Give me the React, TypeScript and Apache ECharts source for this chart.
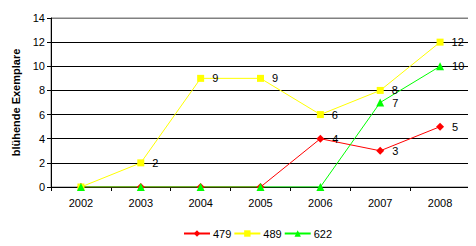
import React, { useEffect, useRef } from "react";
import * as echarts from "echarts";

const years = ["2002", "2003", "2004", "2005", "2006", "2007", "2008"];
const s479 = [0, 0, 0, 0, 4, 3, 5];
const s489 = [0, 2, 9, 9, 6, 8, 12];
const s622 = [0, 0, 0, 0, 0, 7, 10];
const yTicks = [0, 2, 4, 6, 8, 10, 12, 14];

const font = "Liberation Sans, Arial, sans-serif";

export default function App() {
  const ref = useRef<HTMLDivElement>(null);
  useEffect(() => {
    const chart = echarts.init(ref.current!, undefined, { renderer: "svg" });
    const label = {
      show: true,
      position: "right" as const,
      distance: 8,
      color: "#000",
      fontFamily: font,
      fontSize: 11,
      formatter: (p: any) => (p.value === 0 ? "" : String(p.value)),
    };
    const mk = (name: string, data: number[], color: string, symbol: string, size: number) => ({
      name,
      type: "line",
      data,
      symbol,
      symbolSize: size,
      showAllSymbol: true,
      lineStyle: { color, width: 1 },
      itemStyle: { color },
      label,
    });
    chart.setOption({
      animation: false,
      backgroundColor: "#fff",
      grid: {
        left: 51,
        right: 6,
        top: 18,
        bottom: 59,
        show: true,
        borderColor: "#808080",
        borderWidth: 1,
      },
      legend: {
        bottom: 2,
        left: 178,
        itemWidth: 26,
        itemHeight: 8,
        itemGap: 2,
        textStyle: { fontFamily: font, fontSize: 11, color: "#000", padding: [0, 0, 0, -2] },
        data: ["479", "489", "622"],
      },
      xAxis: {
        type: "category",
        data: years,
        boundaryGap: true,
        axisLine: { lineStyle: { color: "#000", width: 1 } },
        axisTick: { show: true, length: 4, inside: false, lineStyle: { color: "#000" } },
        axisLabel: { fontFamily: font, fontSize: 11, color: "#000", margin: 10 },
      },
      yAxis: {
        type: "value",
        min: yTicks[0],
        max: yTicks[yTicks.length - 1],
        interval: 2,
        name: "blühende Exemplare",
        nameLocation: "middle",
        nameGap: 29,
        nameTextStyle: { fontFamily: font, fontSize: 11, fontWeight: "bold", color: "#000" },
        axisLine: { show: true, lineStyle: { color: "#000", width: 1 } },
        axisTick: { show: true, length: 4, lineStyle: { color: "#000" } },
        axisLabel: { fontFamily: font, fontSize: 11, color: "#000", margin: 6 },
        splitLine: {
          show: true,
          lineStyle: {
            color: ["#000", "#000", "#000", "#000", "#000", "#000", "#000", "#808080"],
            width: 1,
          },
        },
      },
      series: [
        mk("479", s479, "#FF0000", "diamond", 8),
        mk("489", s489, "#FFFF00", "rect", 7),
        mk("622", s622, "#00FF00", "triangle", 8),
      ],
    });
    return () => chart.dispose();
  }, []);
  return <div ref={ref} style={{ width: 476, height: 246, margin: -8 }} />;
}
